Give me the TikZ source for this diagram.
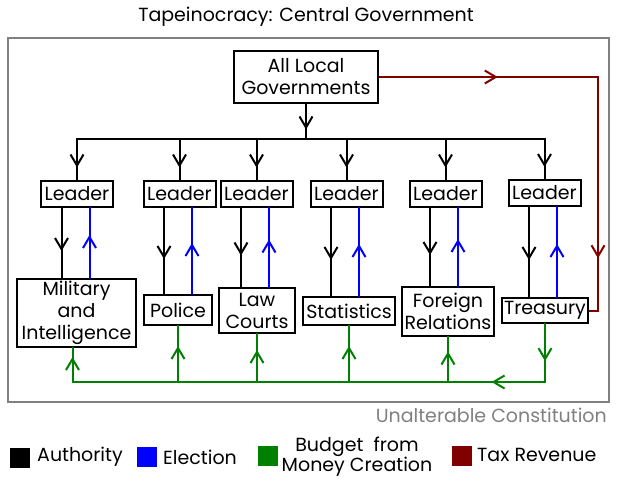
\documentclass[tikz,border=0pt]{standalone}
\usepackage{fontspec}
\setmainfont{Poppins}
\usetikzlibrary{decorations.markings}
\definecolor{elect}{RGB}{0,0,255}
\definecolor{budget}{RGB}{0,128,0}
\definecolor{tax}{RGB}{128,0,0}
\definecolor{frame}{RGB}{128,128,128}
\tikzset{
  box/.style={draw, line width=2pt, align=center, inner sep=1pt, font=\fontsize{19}{22}\selectfont},
  leader/.style={box, minimum width=72pt, minimum height=26pt},
  link/.style={line width=2pt, line cap=rect},
  mid/.style={postaction={decorate, decoration={markings,
    mark=at position #1 with {\draw[line cap=butt] (-5pt,6.5pt) -- (6pt,0pt) -- (-5pt,-6.5pt);}}}},
  mid/.default=0.5,
  key/.style={minimum width=20pt, minimum height=20pt, inner sep=0pt},
  keytext/.style={font=\fontsize{19}{20}\selectfont, align=center, inner sep=0pt}
}
\begin{document}
\begin{tikzpicture}[x=1pt, y=-1pt]
  \useasboundingbox (0,0) rectangle (618,495);
  \node[keytext] (title) at (306,17) {Tapeinocracy: Central Government};
  \draw[frame, line width=2pt] (8,38) rectangle (609,402);
  \node[keytext, text=frame, anchor=east] (const) at (607,415) {Unalterable Constitution};

  \node[box, minimum width=144pt, minimum height=52pt] (all) at (306,77) {All Local\\Governments};

  \node[leader] (l1) at (77,194) {Leader};
  \node[leader] (l2) at (179.5,194) {Leader};
  \node[leader] (l3) at (256.5,194) {Leader};
  \node[leader] (l4) at (346.5,194) {Leader};
  \node[leader] (l5) at (445.5,194) {Leader};
  \node[leader] (l6) at (544.5,193) {Leader};

  \node[box, minimum width=119pt, minimum height=68pt] (mil) at (76.5,313) {Military\\and\\Intelligence};
  \node[box, minimum width=68pt, minimum height=30pt] (pol) at (178,310) {Police};
  \node[box, minimum width=76pt, minimum height=45pt] (law) at (257,310.5) {Law\\Courts};
  \node[box, minimum width=92pt, minimum height=28pt] (sta) at (349,311) {Statistics};
  \node[box, minimum width=92pt, minimum height=49pt] (for) at (448,311.5) {Foreign\\Relations};
  \node[box, minimum width=86pt, minimum height=25pt] (tre) at (545,310.5) {Treasury};

  \coordinate (bus) at (306,139);
  \coordinate (gbus) at (306,382);
  \coordinate (rc) at (598,77);

  \begin{scope}[link]
    \draw[mid] (all.south) -- (all.south |- bus);
    \draw (l1.north |- bus) -- (l6.north |- bus);
    \foreach \l in {l1,l2,l3,l4,l5,l6}
      \draw[mid] (\l.north |- bus) -- (\l.north);
    \foreach \l/\d in {l1/mil,l2/pol,l3/law,l4/sta,l5/for,l6/tre} {
      \draw[mid] ([xshift=-15.5pt]\l.south) -- ([xshift=-15.5pt]\l.south |- \d.north);
      \draw[elect, mid] ([xshift=12.5pt]\l.south |- \d.north) -- ([xshift=12.5pt]\l.south);
    }
    \draw[budget, mid=0.055, mid=0.195] (tre.south) -- (tre.south |- gbus) -- ([xshift=-4pt]mil.south |- gbus);
    \draw[budget, mid] ([xshift=-4pt]mil.south |- gbus) -- ([xshift=-4pt]mil.south);
    \foreach \d in {pol,law,sta,for}
      \draw[budget, mid] (\d.south |- gbus) -- (\d.south);
    \draw[tax, mid=0.24, mid=0.85, line cap=butt] (all.east) -- (rc) -- (rc |- tre.east) -- (tre.east);
  \end{scope}

  \node[key, fill=black] (k1) at (20,458) {};
  \node[keytext, anchor=west] (t1) at (37,457) {Authority};
  \node[key, fill=elect] (k2) at (147,457) {};
  \node[keytext, anchor=west] (t2) at (163,457) {Election};
  \node[key, fill=budget] (k3) at (268,456) {};
  \node[keytext] (t3) at (357,457) {Budget~ from\\Money Creation};
  \node[key, fill=tax] (k4) at (462,456) {};
  \node[keytext, anchor=west] (t4) at (477,455) {Tax Revenue};
\end{tikzpicture}
\end{document}
